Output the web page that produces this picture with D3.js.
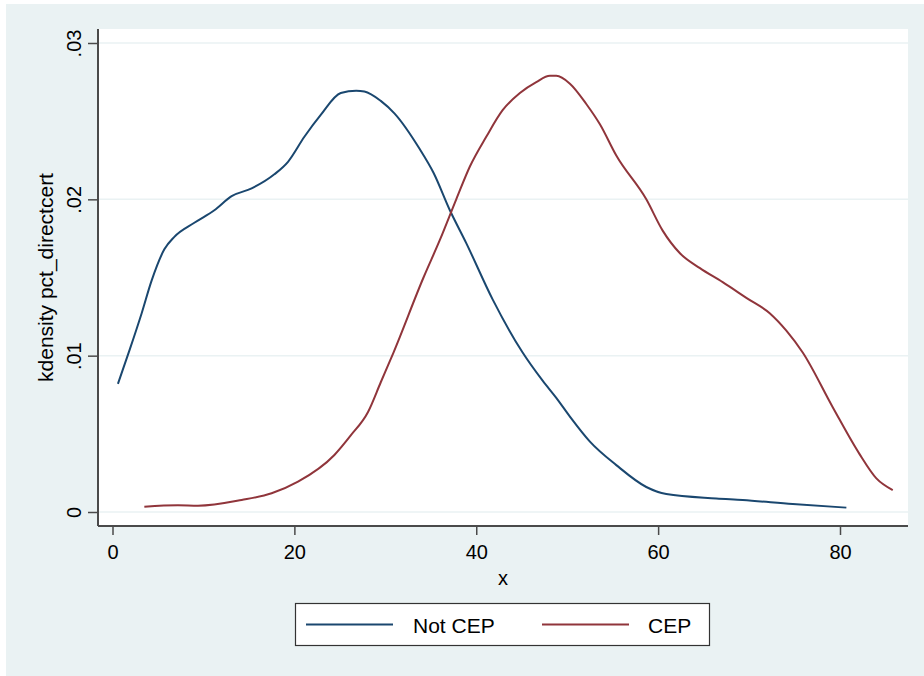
<!DOCTYPE html>
<html>
<head>
<meta charset="utf-8">
<script src="https://cdn.jsdelivr.net/npm/d3@7"></script>
<style>
  body { margin: 0; background: #fff; }
  text { font-family: "Liberation Sans", Arial, sans-serif; fill: #000; }
</style>
</head>
<body>
<div id="chart"></div>
<script>
// kdensity of pct_directcert
var notCepX = [0.6, 1.9, 3.2, 4.3, 5.7, 6.8, 9.0, 11.2, 13.1, 15.3, 17.8, 19.3, 21.1, 22.9, 25.1, 26.8, 27.7, 29.5, 31.0, 33.8, 35.3, 37.1, 38.9, 41.8, 45.1, 47.3, 48.8, 50.3, 52.5, 55.4, 58.7, 60.9, 66.4, 69.3, 74.8, 80.7];
var notCepY = [0.0082, 0.0104, 0.0127, 0.0148, 0.0168, 0.0176, 0.0185, 0.0193, 0.0202, 0.0207, 0.0216, 0.0224, 0.0240, 0.0254, 0.0268, 0.02695, 0.0269, 0.0263, 0.0255, 0.0232, 0.0217, 0.0193, 0.0172, 0.0136, 0.0102, 0.0084, 0.0073, 0.0061, 0.0045, 0.0030, 0.0016, 0.00115, 0.00087, 0.00077, 0.00051, 0.00028];

var cepX = [3.5, 7.2, 9.4, 14.2, 17.5, 20.4, 24.4, 26.2, 28.1, 29.5, 30.9, 34.2, 36.0, 37.8, 39.3, 41.1, 42.9, 44.8, 46.6, 48.1, 48.8, 50.3, 52.1, 53.6, 55.4, 58.7, 60.5, 62.4, 64.6, 67.1, 69.7, 72.3, 74.1, 75.9, 79.2, 82.1, 84.0, 85.8];
var cepY = [0.00034, 0.00043, 0.00040, 0.00077, 0.0012, 0.00194, 0.00365, 0.0049, 0.0064, 0.0083, 0.0102, 0.0150, 0.0174, 0.0200, 0.0221, 0.0240, 0.0257, 0.0268, 0.0275, 0.0279, 0.0279, 0.0274, 0.0261, 0.0248, 0.0228, 0.0200, 0.0180, 0.01655, 0.0156, 0.0147, 0.0137, 0.0127, 0.0116, 0.0102, 0.0067, 0.00375, 0.00215, 0.0014];

var xTicks = [0, 20, 40, 60, 80];
var yTicks = [0, 0.01, 0.02, 0.03];
var yTickLabels = ["0", ".01", ".02", ".03"];
var seriesNames = ["Not CEP", "CEP"];
var seriesColors = ["#1a476f", "#90353b"];

var width = 924, height = 676;
var plot = {left: 98, right: 908, top: 29, bottom: 526};

var svg = d3.select("#chart").append("svg")
    .attr("width", width)
    .attr("height", height);

// outer graph region
svg.append("rect")
    .attr("x", 6).attr("y", 4)
    .attr("width", width - 6).attr("height", height - 4)
    .attr("fill", "#eaf2f3");

svg.append("rect")
    .attr("x", plot.left).attr("y", plot.top)
    .attr("width", plot.right - plot.left).attr("height", plot.bottom - plot.top)
    .attr("fill", "#fff");

var x = d3.scaleLinear().domain([0, 80]).range([112.5, 840]);
var y = d3.scaleLinear().domain([0, 0.03]).range([512, 43]);

// grid lines
svg.append("g").selectAll("line")
    .data(yTicks)
    .enter().append("line")
    .attr("x1", plot.left).attr("x2", plot.right)
    .attr("y1", function(d) { return y(d); })
    .attr("y2", function(d) { return y(d); })
    .attr("stroke", "#eaf2f3")
    .attr("stroke-width", 1.5);

// curves
var line = d3.line()
    .x(function(d) { return x(d[0]); })
    .y(function(d) { return y(d[1]); })
    .curve(d3.curveMonotoneX);

var series = [d3.zip(notCepX, notCepY), d3.zip(cepX, cepY)];

svg.append("g").selectAll("path")
    .data(series)
    .enter().append("path")
    .attr("d", line)
    .attr("fill", "none")
    .attr("stroke", function(d, i) { return seriesColors[i]; })
    .attr("stroke-width", 2);

// axes
var axisColor = "#4a4a4a";
var xAxis = svg.append("g")
    .attr("transform", "translate(0," + plot.bottom + ")")
    .call(d3.axisBottom(x).tickValues(xTicks).tickSize(9).tickPadding(6).tickSizeOuter(0));
xAxis.select(".domain").attr("d", "M" + plot.left + ",0H" + plot.right);

var yAxis = svg.append("g")
    .attr("transform", "translate(" + plot.left + ",0)")
    .call(d3.axisLeft(y).tickValues(yTicks).tickSize(10).tickSizeOuter(0)
        .tickFormat(function(d, i) { return yTickLabels[i]; }));
yAxis.select(".domain").attr("d", "M0," + plot.top + "V" + plot.bottom);

svg.selectAll(".domain").attr("stroke", axisColor).attr("stroke-width", 2);
svg.selectAll(".tick line").attr("stroke", axisColor).attr("stroke-width", 1.5);

xAxis.selectAll("text")
    .attr("font-size", 20)
    .attr("font-family", "Liberation Sans, Arial, sans-serif")
    .attr("fill", "#000")
    .attr("y", 0)
    .attr("dy", null)
    .attr("transform", "translate(0,33)");

yAxis.selectAll("text")
    .attr("font-size", 20)
    .attr("font-family", "Liberation Sans, Arial, sans-serif")
    .attr("fill", "#000")
    .attr("x", 0)
    .attr("dy", null)
    .attr("text-anchor", "middle")
    .attr("transform", "translate(-17,0) rotate(-90)");

// axis titles
svg.append("text")
    .attr("x", (plot.left + plot.right) / 2)
    .attr("y", 585)
    .attr("text-anchor", "middle")
    .attr("font-size", 20)
    .text("x");

svg.append("text")
    .attr("transform", "translate(53," + ((plot.top + plot.bottom) / 2) + ") rotate(-90)")
    .attr("text-anchor", "middle")
    .attr("font-size", 21)
    .text("kdensity pct_directcert");

// legend
var legend = svg.append("g");
legend.append("rect")
    .attr("x", 295.5).attr("y", 603.5)
    .attr("width", 414).attr("height", 42)
    .attr("fill", "#fff")
    .attr("stroke", "#333")
    .attr("stroke-width", 1.2);

var legendLineX = [306, 542];
var legendTextX = [413, 648];
seriesNames.forEach(function(name, i) {
    legend.append("line")
        .attr("x1", legendLineX[i]).attr("x2", legendLineX[i] + 87)
        .attr("y1", 624.5).attr("y2", 624.5)
        .attr("stroke", seriesColors[i])
        .attr("stroke-width", 2);
    legend.append("text")
        .attr("x", legendTextX[i])
        .attr("y", 633)
        .attr("font-size", 21)
        .text(name);
});
</script>
</body>
</html>
